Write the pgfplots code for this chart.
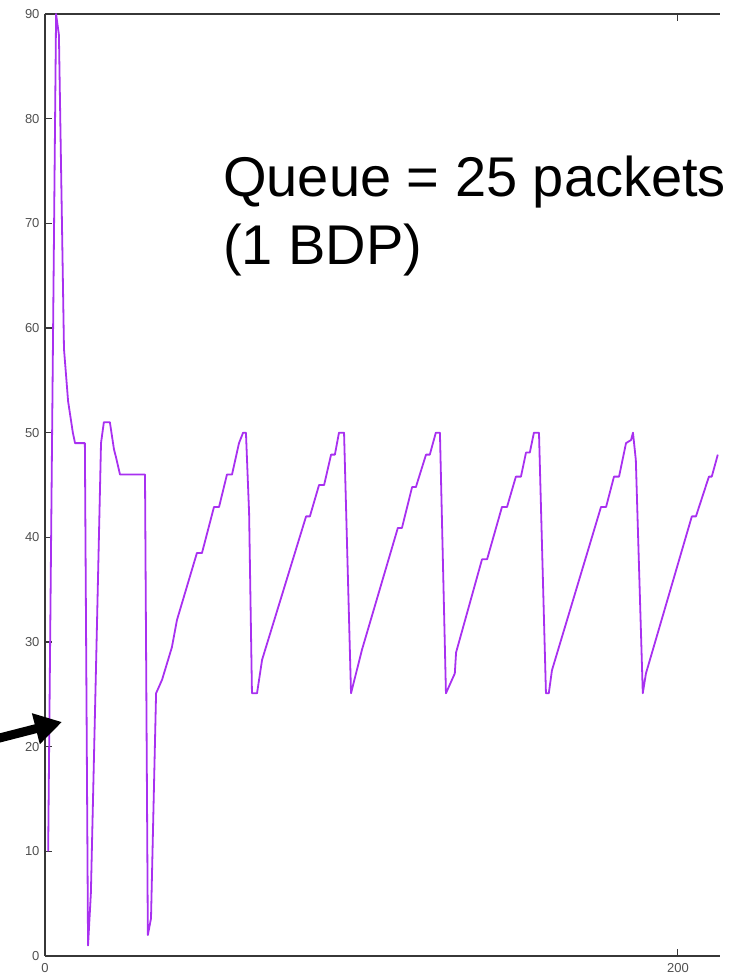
\documentclass[border=0pt]{standalone}
\usepackage{fontspec}
\setmainfont{Liberation Sans}
\usepackage{pgfplots}
\pgfplotsset{compat=1.18}
\usetikzlibrary{arrows.meta}
\definecolor{qpurple}{RGB}{168,48,240}
\definecolor{axgray}{RGB}{55,55,55}
\definecolor{lblgray}{RGB}{80,80,80}
\begin{document}
\begin{tikzpicture}
\begin{axis}[
  at={(45pt,22pt)}, anchor=south west,
  scale only axis, width=675pt, height=942pt,
  xmin=0, xmax=213.3, ymin=0, ymax=90,
  axis x line=box, axis y line=left,
  axis line style={-, axgray, line width=1.1pt},
  y axis line style={-},
  tick align=inside, major tick length=7pt,
  tick style={axgray, line width=1.1pt},
  xtick={0,200}, ytick={0,10,...,90},
  tick label style={font=\fontsize{13}{15}\selectfont, text=lblgray},
  xticklabel style={yshift=-4pt},
  yticklabel style={xshift=-2pt},
  /pgf/number format/assume math mode=true,
  clip=false,
]
\addplot[qpurple, line width=1.8pt, line join=round] coordinates {
(1,10) (3.5,90) (4.4,88) (6.0,58) (7.3,53) (8.8,50) (9.5,49) (12.6,49)
(13.6,1) (14.5,6) (16.3,30) (17.7,49) (18.6,51) (20.5,51) (21.8,48.4) (22.4,47.7)
(23.7,46) (31.6,46) (32.5,2) (33.5,3.6) (35.1,25.1) (37,26.4) (40.1,29.5) (41.7,32.1)
(48,38.5) (49.6,38.5) (53.4,42.9) (55,42.9) (57.5,46) (59.1,46) (61.3,49) (62.6,50)
(63.5,50) (64.5,42.3) (65.4,25.1) (67,25.1) (68.6,28.3) (82.5,42) (83.7,42) (86.6,45)
(88.2,45) (90.4,47.9) (91.6,47.9) (92.9,50) (94.5,50) (96.7,25.1) (100.2,29.3)
(111.5,40.9) (112.8,40.9) (116,44.8) (117.2,44.8) (120.4,47.9) (121.6,47.9) (123.5,50)
(124.8,50) (126.7,25.1) (129.5,27) (129.9,29) (138.1,37.9) (139.7,37.9) (144.4,42.9)
(146,42.9) (148.8,45.8) (150.4,45.8) (152,48.1) (153.2,48.1) (154.5,50) (156.1,50)
(158.3,25.1) (159.2,25.1) (160.2,27.3) (175.7,42.9) (177.3,42.9) (179.8,45.8) (181.4,45.8)
(183.6,49) (185.2,49.3) (185.8,50) (186.7,47.4) (188.9,25.1) (189.9,27) (204.4,42)
(205.7,42) (209.8,45.8) (210.7,45.8) (212.6,47.9)
};
\end{axis}
\node[anchor=base west, inner sep=0pt, font=\fontsize{56}{69}\selectfont] at (223pt,781pt) {Queue = 25 packets};
\node[anchor=base west, inner sep=0pt, font=\fontsize{56}{69}\selectfont] at (223pt,713pt) {(1 BDP)};
\draw[line width=9pt, -{Triangle[length=27pt,width=30pt]}] (-20pt,235pt) -- (62pt,256pt);
\pgfresetboundingbox
\path[use as bounding box] (0pt,0pt) rectangle (738pt,978pt);
\end{tikzpicture}
\end{document}
